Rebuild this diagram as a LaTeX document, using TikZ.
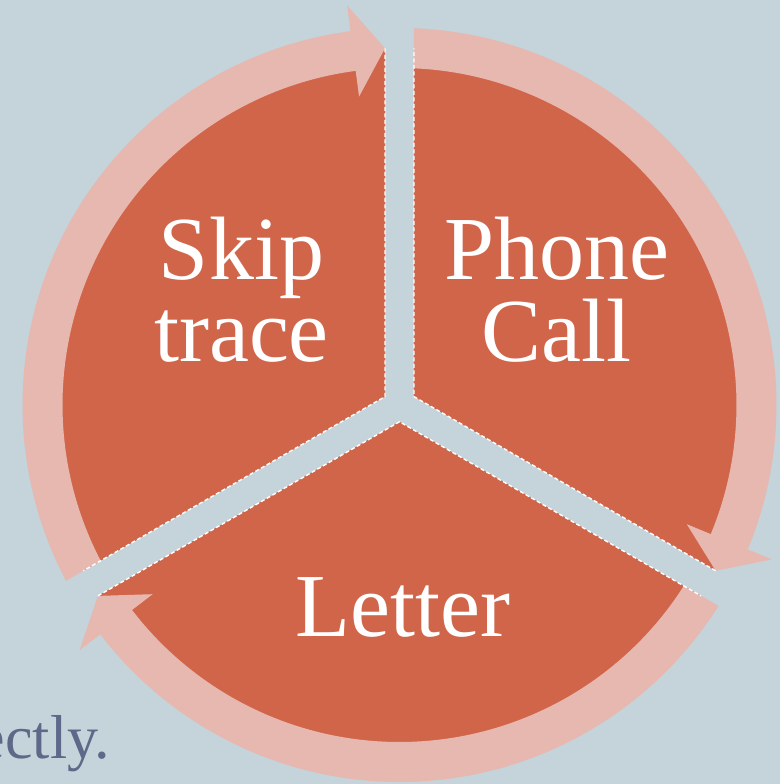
\documentclass[tikz,border=0pt]{standalone}
\usepackage{fontspec}
\setmainfont{Liberation Serif}
\usepackage{tikz}
\usetikzlibrary{calc}
\definecolor{cBack}{HTML}{C5D3DA}
\definecolor{cSeg} {HTML}{D1654A}
\definecolor{cRing}{HTML}{E6B8B0}
\definecolor{cTail}{HTML}{5E6889}
\tikzset{
  seg/.style  ={fill=cSeg},
  ring/.style ={fill=cRing},
  rim/.style  ={draw=white,line width=1.4pt,dash pattern=on 4pt off 2.5pt},
  txt/.style  ={text=white,align=center,inner sep=0pt,anchor=base,
                font=\fontsize{90}{82}\selectfont},
  tail/.style ={text=cTail,inner sep=0pt,anchor=base east,
                font=\fontsize{62}{70}\selectfont},
}

\begin{document}
\begin{tikzpicture}[x=1pt,y=1pt]
\clip (-399.5,-379) rectangle (380.5,405);
\fill[cBack] (-399.5,-379) rectangle (380.5,405);

% segments, gap axes at 90 / 210 / 330
\foreach \a in {90,210,330}
  {\fill[seg] ({\a+60}:16.74) -- ({\a+2.33}:357)
     arc[start angle=\a+2.33,end angle=\a+117.67,radius=357] -- cycle;}

% ring arrows, clockwise from gap \g to gap \g-120
\foreach \g in {210,90,330}
  {\fill[ring] ({\g-2.2}:377)
     arc[start angle=\g-2.2,end angle=\g-112.53,radius=377]
     -- ({\g-112.53}:403) -- ({\g-117.67}:357) -- ({\g-112.53}:311)
     -- ({\g-112.53}:337)
     arc[start angle=\g-112.53,end angle=\g-2.47,radius=337] -- cycle;}

\foreach \a in {90,210,330}
  {\draw[rim] ({\a+2.33}:357) -- ({\a+60}:16.74) -- ({\a+117.67}:357);}

% base of a two-line node sits on its last line
\node[txt] (n1) at (-158,43) {Skip\\trace};
\node[txt] (n2) at (157,43) {Phone\\Call};
\node[txt] (n3) at (3.5,-231) {Letter};
\node[tail] (n4) at (-289.5,-353) {ectly.};
\end{tikzpicture}
\end{document}
